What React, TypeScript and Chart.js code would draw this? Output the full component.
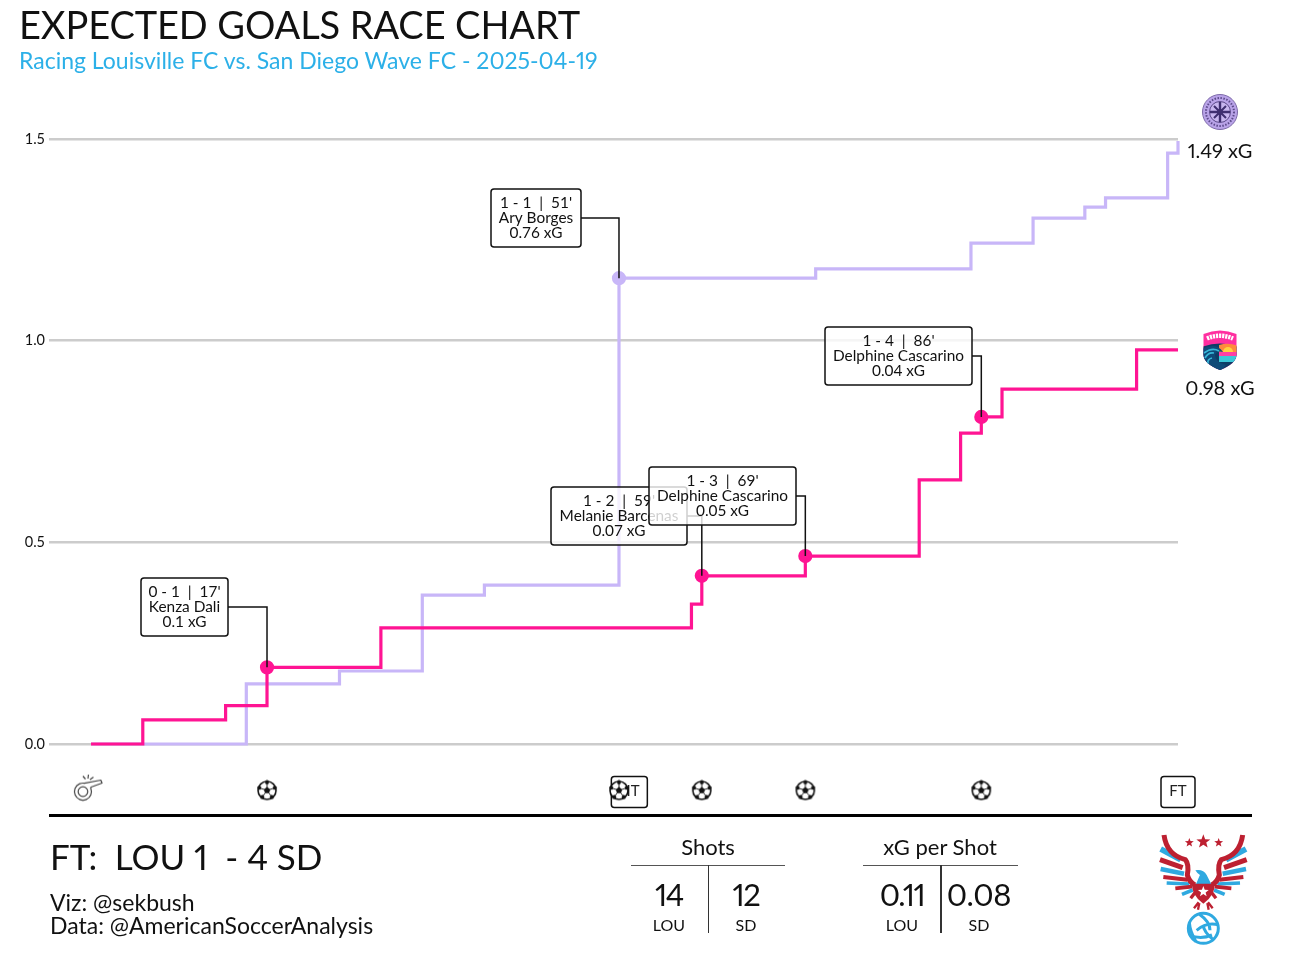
import React, { useEffect, useRef } from "react";
import { Chart, registerables } from "chart.js";

Chart.register(...registerables);

// ---- data ----
const louMinutes = [0, 15, 24, 32, 38, 51, 70, 85, 91, 96, 98, 104, 105];
const louXg = [0, 0.149, 0.181, 0.369, 0.394, 1.155, 1.178, 1.242, 1.304, 1.331, 1.354, 1.465, 1.495];
const sdMinutes = [0, 5, 13, 17, 28, 58, 59, 69, 80, 84, 86, 88, 101, 105];
const sdXg = [0, 0.06, 0.095, 0.19, 0.288, 0.347, 0.417, 0.466, 0.655, 0.771, 0.811, 0.88, 0.977, 0.977];
const louGoalMinutes = [51];
const sdGoalMinutes = [17, 59, 69, 86];
const yTicks = [0, 0.5, 1, 1.5];
const goalEventMinutes = [17, 51, 59, 69, 86];
const kickoffMinute = [-0.3];
const periodLabels = ["HT", "FT"];
const periodMinutes = [52, 105];

const calloutLines: string[][] = [
  ["0 - 1  |  17'", "Kenza Dali", "0.1 xG"],
  ["1 - 1  |  51'", "Ary Borges", "0.76 xG"],
  ["1 - 2  |  59'", "Melanie Barcenas", "0.07 xG"],
  ["1 - 3  |  69'", "Delphine Cascarino", "0.05 xG"],
  ["1 - 4  |  86'", "Delphine Cascarino", "0.04 xG"],
];
const calloutMinutes = [17, 51, 59, 69, 86];
const calloutValues = [0.19, 1.155, 0.417, 0.466, 0.811];

// callout box geometry, in page pixels
const calloutBoxes = [
  { l: 141, t: 578, w: 87 },
  { l: 491, t: 189, w: 90 },
  { l: 551, t: 487, w: 136 },
  { l: 649, t: 467, w: 147 },
  { l: 825, t: 327, w: 147 },
];

const FONT = "Lato, 'Noto Sans', sans-serif";
const PURPLE = "#c8b6f8";
const PINK = "#ff1493";
const EVENT_Y = -0.115;
const KICKOFF_Y = -0.108;

function toPoints(xs: number[], ys: number[]) {
  return xs.map((x, i) => ({ x, y: ys[i] }));
}

function makeBall(): HTMLCanvasElement {
  const c = document.createElement("canvas");
  c.width = 22;
  c.height = 22;
  const g = c.getContext("2d")!;
  const cx = 11, cy = 11, r = 9;
  g.fillStyle = "#fff";
  g.strokeStyle = "#111";
  g.lineWidth = 1.6;
  g.beginPath();
  g.arc(cx, cy, r, 0, Math.PI * 2);
  g.fill();
  g.stroke();
  g.fillStyle = "#111";
  const poly = (px: number, py: number, pr: number, rot: number) => {
    g.beginPath();
    for (let i = 0; i < 5; i++) {
      const a = rot + (i * 2 * Math.PI) / 5;
      const fx = px + pr * Math.cos(a);
      const fy = py + pr * Math.sin(a);
      if (i === 0) g.moveTo(fx, fy);
      else g.lineTo(fx, fy);
    }
    g.closePath();
    g.fill();
  };
  poly(cx, cy, 3.4, -Math.PI / 2);
  for (let i = 0; i < 5; i++) {
    const a = -Math.PI / 2 + (i * 2 * Math.PI) / 5;
    poly(cx + 8.2 * Math.cos(a), cy + 8.2 * Math.sin(a), 2.3, a);
    g.lineWidth = 0.9;
    g.beginPath();
    g.moveTo(cx + 3 * Math.cos(a), cy + 3 * Math.sin(a));
    g.lineTo(cx + 7 * Math.cos(a), cy + 7 * Math.sin(a));
    g.stroke();
  }
  return c;
}

function makeWhistle(): HTMLCanvasElement {
  const c = document.createElement("canvas");
  c.width = 30;
  c.height = 28;
  const g = c.getContext("2d")!;
  g.strokeStyle = "#444";
  g.lineWidth = 1.2;
  g.lineJoin = "round";
  g.beginPath();
  g.moveTo(28, 6.5);
  g.lineTo(29, 9.5);
  g.lineTo(18, 13.5);
  g.arc(10, 18, 8.5, -0.4, Math.PI * 1.55, false);
  g.lineTo(28, 6.5);
  g.stroke();
  g.beginPath();
  g.arc(10, 18, 4.8, 0, Math.PI * 2);
  g.stroke();
  g.beginPath();
  g.moveTo(12.5, 5.5);
  g.lineTo(10, 2.5);
  g.moveTo(15, 5);
  g.lineTo(15.5, 1);
  g.moveTo(17, 6);
  g.lineTo(20.5, 3.5);
  g.stroke();
  return c;
}

function roundRect(g: CanvasRenderingContext2D, x: number, y: number, w: number, h: number, r: number) {
  g.beginPath();
  g.roundRect(x, y, w, h, r);
}

const periodPlugin = {
  id: "periods",
  beforeDatasetsDraw(chart: any) {
    const g: CanvasRenderingContext2D = chart.ctx;
    const xs = chart.scales.x;
    const ys = chart.scales.y;
    g.save();
    periodLabels.forEach((label, i) => {
      const cx = xs.getPixelForValue(periodMinutes[i]);
      const cy = ys.getPixelForValue(EVENT_Y) + 1.5;
      const w = label === "HT" ? 36 : 34;
      g.fillStyle = "#fff";
      g.strokeStyle = "#111";
      g.lineWidth = 1.5;
      roundRect(g, cx - w / 2, cy - 15.5, w, 31, 3);
      g.fill();
      g.stroke();
      g.fillStyle = "#222";
      g.font = `15px ${FONT}`;
      g.textAlign = "center";
      g.textBaseline = "middle";
      g.fillText(label, cx, cy - 1);
    });
    g.restore();
  },
};

const calloutPlugin = {
  id: "callouts",
  afterDatasetsDraw(chart: any) {
    const g: CanvasRenderingContext2D = chart.ctx;
    const xs = chart.scales.x;
    const ys = chart.scales.y;
    g.save();
    calloutLines.forEach((lines, i) => {
      const b = calloutBoxes[i];
      const h = 58;
      const px = xs.getPixelForValue(calloutMinutes[i]);
      const py = ys.getPixelForValue(calloutValues[i]);
      g.strokeStyle = "#111";
      g.lineWidth = 1.5;
      g.beginPath();
      g.moveTo(b.l + b.w, b.t + 29);
      g.lineTo(px, b.t + 29);
      g.lineTo(px, py);
      g.stroke();
      g.fillStyle = "rgba(255,255,255,0.8)";
      roundRect(g, b.l, b.t, b.w, h, 3);
      g.fill();
      g.stroke();
      g.fillStyle = "#111";
      g.font = `15.4px ${FONT}`;
      g.textAlign = "center";
      g.textBaseline = "middle";
      lines.forEach((t, j) => g.fillText(t, b.l + b.w / 2, b.t + 14 + j * 15));
    });
    g.restore();
  },
};

const T: React.FC<{
  x: number;
  y: number;
  size: number;
  align?: "left" | "center";
  color?: string;
  spacing?: number;
  children: React.ReactNode;
}> = ({ x, y, size, align = "left", color = "#111", spacing = 0, children }) => (
  <div
    style={{
      position: "absolute",
      left: x,
      top: y,
      transform: align === "center" ? "translate(-50%,-50%)" : "translateY(-50%)",
      fontFamily: FONT,
      fontSize: size,
      lineHeight: 1,
      color,
      letterSpacing: spacing,
      fontFeatureSettings: '"pnum"',
      whiteSpace: "pre",
    }}
  >
    {children}
  </div>
);

const Rule: React.FC<{ l: number; t: number; w: number; h: number; c: string }> = ({ l, t, w, h, c }) => (
  <div style={{ position: "absolute", left: l, top: t, width: w, height: h, background: c }} />
);

const LouCrest = () => (
  <svg style={{ position: "absolute", left: 1201, top: 93 }} width={38} height={38} viewBox="0 0 38 38">
    <circle cx="19" cy="19" r="17.5" fill="#b9a3e8" stroke="#7d6aa8" strokeWidth="1" />
    <circle cx="19" cy="19" r="10.5" fill="#c8b6ef" stroke="#5c4a8a" strokeWidth="1" />
    <circle cx="19" cy="19" r="14" fill="none" stroke="#5c4a8a" strokeWidth="2" strokeDasharray="1.5 1.5" />
    <path d="M19 9V29M9 19H29" stroke="#3f2f70" strokeWidth="2.4" />
    <path d="M13 13L25 25M25 13L13 25" stroke="#3f2f70" strokeWidth="2" />
    <circle cx="19" cy="19" r="3" fill="#3f2f70" />
  </svg>
);

const SdCrest = () => (
  <svg style={{ position: "absolute", left: 1202, top: 328 }} width={36} height={43} viewBox="0 0 36 43">
    <defs>
      <clipPath id="sdShield">
        <path d="M1.5 6Q18 -1 34.5 6V27Q34 36 18 42Q2 36 1.5 27Z" />
      </clipPath>
    </defs>
    <g clipPath="url(#sdShield)">
      <rect width="36" height="43" fill="#ff2fa0" />
      <path d="M0 19Q18 12 36 19V43H0Z" fill="#0f3d66" />
      <path d="M17 17Q27 14 36 18V24H17Z" fill="#ff8a3c" />
      <circle cx="26" cy="24" r="5" fill="#ffd23f" />
      <rect x="17" y="24" width="19" height="4" fill="#ff3fa4" />
      <rect x="17" y="28" width="19" height="6" fill="#3cc7d8" />
      <path d="M0 21Q14 14 21 24Q15 22 13 27Q13 34 24 37L18 44L0 43Z" fill="#0f4a78" />
      <path d="M2 25Q10 19 17 23M3 30Q6 24 12 25M6 36Q5 31 10 30" stroke="#38b6d8" strokeWidth="1.7" fill="none" />
    </g>
    <path d="M5 10.5Q18 5 31 10.5" stroke="#fff" strokeWidth="4.5" fill="none" strokeDasharray="2.2 0.9" />
  </svg>
);

const Star: React.FC<{ cx: number; cy: number; r: number; fill: string }> = ({ cx, cy, r, fill }) => {
  const pts: string[] = [];
  for (let i = 0; i < 10; i++) {
    const a = -Math.PI / 2 + (i * Math.PI) / 5;
    const rr = i % 2 === 0 ? r : r * 0.42;
    pts.push(`${cx + rr * Math.cos(a)},${cy + rr * Math.sin(a)}`);
  }
  return <polygon points={pts.join(" ")} fill={fill} />;
};

const RED = "#bd2031";
const BLUE = "#2fa9e0";
const Wing = () => (
  <g fill="none" strokeLinecap="butt">
    <path d="M32 72L92 104" stroke={BLUE} strokeWidth="17" />
    <path d="M30 104L98 128" stroke={RED} strokeWidth="15" />
    <path d="M32 132L102 146" stroke={BLUE} strokeWidth="14" />
    <path d="M40 156L112 164" stroke={RED} strokeWidth="12" />
    <path d="M50 174L118 177" stroke={BLUE} strokeWidth="11" />
    <path d="M76 190L126 185" stroke={RED} strokeWidth="11" />
    <path d="M96 208L128 195" stroke={BLUE} strokeWidth="11" />
    <path d="M122 220L136 202" stroke={RED} strokeWidth="10" />
    <path d="M42 30Q50 90 106 104Q118 118 112 150Q118 172 135 180" stroke={RED} strokeWidth="15" />
    <path d="M146 232L132 250M148 234L144 254" stroke={RED} strokeWidth="7" />
  </g>
);

const Eagle = () => (
  <svg style={{ position: "absolute", left: 1150, top: 825 }} width={110} height={130} viewBox="0 0 330 390">
    <Wing />
    <g transform="translate(320,0) scale(-1,1)">
      <Wing />
    </g>
    <Star cx={118} cy={53} r={14} fill={RED} />
    <Star cx={160} cy={50} r={22} fill={RED} />
    <Star cx={206} cy={53} r={14} fill={RED} />
    <path d="M136 136Q160 132 170 150L184 178L138 178Q146 158 150 150Q142 146 136 136Z" fill={BLUE} />
    <path d="M126 176H194Q196 210 160 236Q124 210 126 176Z" fill={RED} />
    <Star cx={160} cy={200} r={17} fill="#fff" />
    <circle cx="160" cy="310" r="45" fill="#fff" stroke={BLUE} strokeWidth="9" />
    <path
      d="M148 268Q180 290 180 316M206 300Q170 290 140 316M192 346Q160 320 160 300M120 330Q150 345 186 330M118 292Q120 320 138 350"
      fill="none"
      stroke={BLUE}
      strokeWidth="9"
    />
  </svg>
);

export default function App() {
  const ref = useRef<HTMLCanvasElement>(null);
  useEffect(() => {
    const ball = makeBall();
    const whistle = makeWhistle();
    const chart = new Chart(ref.current!, {
      type: "line",
      data: {
        datasets: [
          {
            label: "SD",
            data: toPoints(sdMinutes, sdXg),
            borderColor: PINK,
            backgroundColor: PINK,
            borderWidth: 3.2,
            stepped: "before",
            clip: false,
            order: 1,
            pointRadius: (c: any) => (sdGoalMinutes.includes(c.raw?.x) ? 5.5 : 0),
          } as any,
          {
            label: "LOU",
            data: toPoints(louMinutes, louXg),
            borderColor: PURPLE,
            backgroundColor: PURPLE,
            borderWidth: 3.2,
            stepped: "before",
            clip: false,
            order: 2,
            pointRadius: (c: any) => (louGoalMinutes.includes(c.raw?.x) ? 5.5 : 0),
          } as any,
          {
            label: "Goals",
            data: goalEventMinutes.map((x) => ({ x, y: EVENT_Y })),
            showLine: false,
            pointStyle: ball,
            clip: false,
            order: 0,
          } as any,
          {
            label: "Kick-off",
            data: kickoffMinute.map((x) => ({ x, y: KICKOFF_Y })),
            showLine: false,
            pointStyle: whistle,
            clip: false,
            order: 0,
          } as any,
        ],
      },
      options: {
        responsive: false,
        animation: false,
        devicePixelRatio: 1,
        layout: { padding: { left: 0, right: 114, top: 98.67, bottom: 155.43 } },
        plugins: { legend: { display: false }, tooltip: { enabled: false } },
        scales: {
          x: { type: "linear", display: false, min: -4.06, max: 105 },
          y: {
            min: -0.17,
            max: 1.6,
            afterBuildTicks: (s: any) => {
              s.ticks = yTicks.map((value) => ({ value }));
            },
            afterFit: (s: any) => {
              s.width = 49;
            },
            border: { display: false },
            grid: { color: "#cccccc", lineWidth: 2.6, drawTicks: false },
            ticks: {
              padding: 4,
              color: "#111",
              font: { family: FONT, size: 14.5 },
              callback: (v: any) => Number(v).toFixed(1),
            },
          },
        },
      },
      plugins: [periodPlugin, calloutPlugin],
    });
    return () => chart.destroy();
  }, []);

  return (
    <div style={{ position: "absolute", left: 0, top: 0, width: 1292, height: 968, background: "#fff", overflow: "hidden" }}>
      <canvas ref={ref} width={1292} height={968} style={{ position: "absolute", left: 0, top: 0 }} />
      <T x={19} y={24} size={38} spacing={-0.1}>EXPECTED GOALS RACE CHART</T>
      <T x={19} y={59.5} size={23} color="#2cb0e8">Racing Louisville FC vs. San Diego Wave FC - 2025-04-19</T>

      <LouCrest />
      <SdCrest />
      <T x={1220} y={150} size={20} align="center">1.49 xG</T>
      <T x={1220} y={387} size={20} align="center">0.98 xG</T>

      <Rule l={49} t={813.5} w={1203} h={3} c="#000" />
      <T x={50} y={856} size={35} spacing={-0.1}>FT:  LOU 1  - 4 SD</T>
      <T x={50} y={901.5} size={23}>Viz: @sekbush</T>
      <T x={50} y={924.5} size={23}>Data: @AmericanSoccerAnalysis</T>

      <T x={708} y={847} size={22} align="center">Shots</T>
      <Rule l={631} t={865} w={154} h={1} c="#555" />
      <Rule l={707.5} t={865} w={1.5} h={68} c="#333" />
      <T x={669} y={894} size={31} align="center" spacing={-1.5}>14</T>
      <T x={746} y={894} size={31} align="center" spacing={-1.5}>12</T>
      <T x={669} y={925} size={16} align="center">LOU</T>
      <T x={746} y={925} size={16} align="center">SD</T>

      <T x={940} y={847} size={22} align="center">xG per Shot</T>
      <Rule l={863} t={865} w={155} h={1} c="#555" />
      <Rule l={940} t={865} w={1.5} h={68} c="#333" />
      <T x={902} y={894} size={31} align="center" spacing={-1.5}>0.11</T>
      <T x={979} y={894} size={31} align="center" spacing={-0.3}>0.08</T>
      <T x={902} y={925} size={16} align="center">LOU</T>
      <T x={979} y={925} size={16} align="center">SD</T>

      <Eagle />
    </div>
  );
}
